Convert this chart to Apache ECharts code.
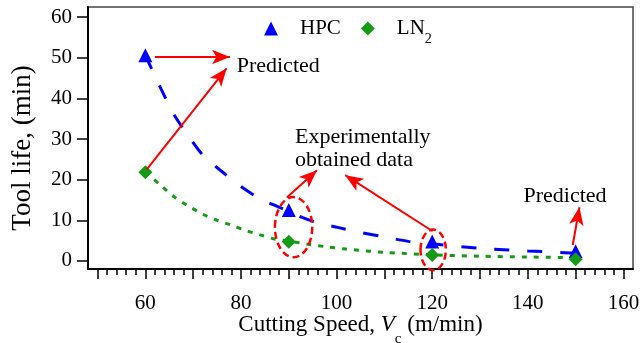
<!DOCTYPE html>
<html>
<head>
<meta charset="utf-8">
<script src="https://cdn.jsdelivr.net/npm/echarts@6/dist/echarts.min.js"></script>
<style>
  html, body { margin: 0; padding: 0; background: #fff; }
  #chart { width: 642px; height: 343px; }
</style>
</head>
<body>
<div id="chart"></div>
<script>
// measured tool life (min) at each cutting speed (m/min)
const speeds = [60, 90, 120, 150]
const hpcLife = [50.6, 12.5, 4.8, 2.4]
const ln2Life = [21.8, 4.7, 1.45, 0.4]

// fitted curves
const hpcFitSpeed = [60, 63, 66, 69, 72, 76, 80, 84, 88, 92, 96, 100, 105, 110, 115, 120, 130, 140, 150]
const hpcFitLife = [50.6, 43, 36, 30.8, 26.1, 22, 18.3, 15.3, 13.2, 11.1, 9.4, 8.3, 7.0, 5.9, 4.8, 4.2, 3.1, 2.45, 1.9]
const ln2FitSpeed = [60, 63, 66, 69, 72, 75, 78, 81, 84, 87, 90, 94, 98, 102, 110, 120, 130, 140, 150]
const ln2FitLife = [22, 18.8, 15.8, 13.5, 11.5, 10.0, 8.8, 7.5, 6.4, 5.4, 4.9, 4.1, 3.45, 2.9, 2.1, 1.5, 1.15, 0.95, 0.8]

// axis ticks
const xLabels = [60, 80, 100, 120, 140, 160]
const xMajorTicks = [50, 60, 70, 80, 90, 100, 110, 120, 130, 140, 150, 160]
const xMinorTicks = [52, 54, 56, 58, 62, 64, 66, 68, 72, 74, 76, 78, 82, 84, 86, 88, 92, 94, 96, 98,
  102, 104, 106, 108, 112, 114, 116, 118, 122, 124, 126, 128, 132, 134, 136, 138,
  142, 144, 146, 148, 152, 154, 156, 158]
const yTicks = [0, 10, 20, 30, 40, 50, 60]

// annotations (data coordinates)
const arrowFrom = [[62.0, 50.2], [60.3, 22.5], [89.6, 15.6], [120.1, 7.3], [149.4, 3.9]]
const arrowTo = [[77.7, 50.2], [77.0, 47.4], [95.9, 22.3], [101.8, 21.1], [150.8, 13.2]]
const ellipses = [[91.0, 8.3, 3.9, 7.4], [120.2, 2.7, 2.65, 5.0]]
const noteText = ['Predicted', 'Experimentally', 'obtained data', 'Predicted']
const notePos = [[79.1, 47.8], [91.3, 30.5], [91.3, 24.9], [139.1, 16.0]]

const serif = '"Liberation Serif", "Times New Roman", serif'
const red = '#ff0000'
const blue = '#0000ff'
const green = '#149a14'

const zip = (a, b) => a.map((v, i) => [v, b[i]])

const chart = echarts.init(document.getElementById('chart'))

chart.setOption({
  animation: false,
  grid: {
    left: 88,
    right: 9,
    top: 7,
    bottom: 74,
    containLabel: false,
    outerBoundsMode: 'none',
    show: true,
    borderColor: '#444',
    borderWidth: 1.5
  },
  legend: {
    data: ['HPC', 'LN2'],
    left: 264,
    top: 11,
    padding: 0,
    itemWidth: 14,
    itemHeight: 14,
    itemGap: 20,
    formatter: name => name === 'LN2' ? 'LN{sub|2}' : name,
    textStyle: {
      fontFamily: serif,
      fontSize: 21,
      color: '#000',
      lineHeight: 35,
      padding: [0, 0, 0, 17],
      rich: {
        sub: { fontFamily: serif, fontSize: 14, lineHeight: 35, verticalAlign: 'bottom', color: '#000' }
      }
    }
  },
  xAxis: [
    {
      type: 'value',
      min: 48,
      max: 162,
      position: 'bottom',
      name: '{n|Cutting Speed, }{i|V}{sub|c}{n| (m/min)}',
      nameLocation: 'middle',
      nameGap: 33,
      nameMoveOverlap: false,
      nameTextStyle: {
        fontFamily: serif,
        fontSize: 23,
        color: '#000',
        lineHeight: 45,
        rich: {
          n: { fontFamily: serif, fontSize: 23, color: '#000', lineHeight: 45, verticalAlign: 'middle' },
          i: { fontFamily: serif, fontSize: 23, fontStyle: 'italic', color: '#000', lineHeight: 45, verticalAlign: 'middle' },
          sub: { fontFamily: serif, fontSize: 15, color: '#000', lineHeight: 45, verticalAlign: 'bottom' }
        }
      },
      axisLine: { onZero: false, lineStyle: { color: '#000', width: 2 } },
      axisTick: { customValues: xMajorTicks, length: 10, lineStyle: { color: '#000', width: 1.5 } },
      axisLabel: { customValues: xLabels, margin: 24, fontFamily: serif, fontSize: 21, color: '#000' },
      splitLine: { show: false }
    },
    {
      type: 'value',
      min: 48,
      max: 162,
      position: 'bottom',
      axisLine: { show: false, onZero: false },
      axisTick: { customValues: xMinorTicks, length: 6, lineStyle: { color: '#000', width: 1.5 } },
      axisLabel: { show: false },
      splitLine: { show: false }
    }
  ],
  yAxis: {
    type: 'value',
    min: -2,
    max: 62.5,
    name: 'Tool life, (min)',
    nameLocation: 'middle',
    nameRotate: 90,
    nameGap: 52,
    nameMoveOverlap: false,
    nameTextStyle: { fontFamily: serif, fontSize: 27, color: '#000', padding: [0, 20, 0, 0] },
    axisLine: { onZero: false, lineStyle: { color: '#000', width: 2 } },
    axisTick: { customValues: yTicks, length: 11, lineStyle: { color: '#000', width: 1.5 } },
    axisLabel: { customValues: yTicks, margin: 16, fontFamily: serif, fontSize: 21, color: '#000' },
    splitLine: { show: false }
  },
  series: [
    {
      name: 'HPC fit',
      type: 'line',
      data: zip(hpcFitSpeed, hpcFitLife),
      showSymbol: false,
      smooth: 0.3,
      silent: true,
      lineStyle: { color: blue, width: 3, type: [15, 18] },
      z: 2
    },
    {
      name: 'LN2 fit',
      type: 'line',
      data: zip(ln2FitSpeed, ln2FitLife),
      showSymbol: false,
      smooth: 0.3,
      silent: true,
      lineStyle: { color: green, width: 3, type: [5, 7] },
      z: 2
    },
    {
      name: 'HPC',
      type: 'scatter',
      symbol: 'triangle',
      symbolSize: 14,
      itemStyle: { color: blue, opacity: 1 },
      data: zip(speeds, hpcLife),
      z: 4
    },
    {
      name: 'LN2',
      type: 'scatter',
      symbol: 'diamond',
      symbolSize: 14,
      itemStyle: { color: green, opacity: 1 },
      data: zip(speeds, ln2Life),
      z: 4
    },
    {
      name: 'circles',
      type: 'custom',
      silent: true,
      data: ellipses,
      renderItem: (params, api) => {
        const c = api.coord([api.value(0), api.value(1)])
        const r = api.size([api.value(2), api.value(3)])
        return {
          type: 'ellipse',
          shape: { cx: c[0], cy: c[1], rx: r[0], ry: r[1] },
          style: { fill: 'none', stroke: red, lineWidth: 2.5, lineDash: [7, 4] }
        }
      },
      z: 5
    },
    {
      name: 'notes',
      type: 'custom',
      silent: true,
      data: notePos,
      renderItem: (params, api) => {
        const p = api.coord([api.value(0), api.value(1)])
        return {
          type: 'text',
          x: p[0],
          y: p[1],
          style: {
            text: noteText[params.dataIndex],
            fontFamily: serif,
            fontSize: 22,
            fill: '#000',
            align: 'left',
            verticalAlign: 'middle'
          }
        }
      },
      z: 6
    },
    {
      name: 'arrows',
      type: 'line',
      data: [],
      silent: true,
      markLine: {
        silent: true,
        animation: false,
        symbol: ['none', 'arrow'],
        symbolSize: [11, 18],
        label: { show: false },
        lineStyle: { color: red, width: 2, type: 'solid' },
        emphasis: { disabled: true },
        data: arrowFrom.map((f, i) => [{ coord: f }, { coord: arrowTo[i] }])
      },
      z: 6
    }
  ]
})
</script>
</body>
</html>
